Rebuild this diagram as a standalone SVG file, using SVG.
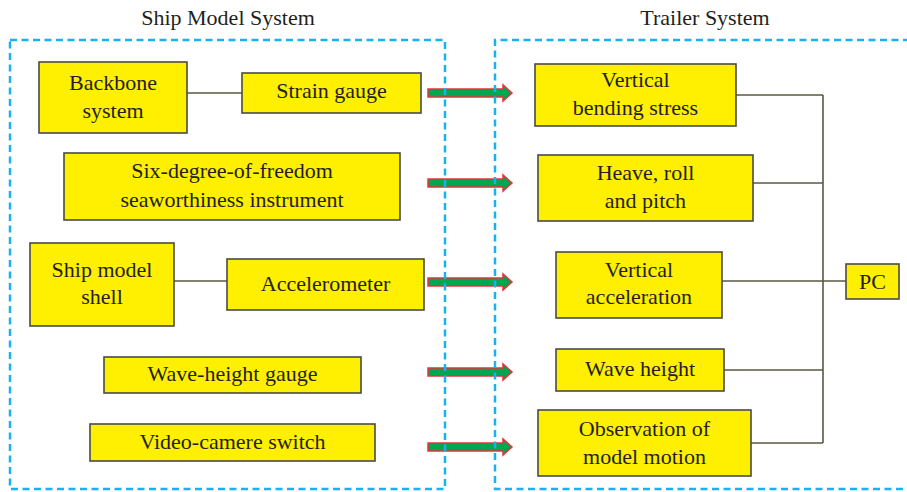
<svg xmlns="http://www.w3.org/2000/svg" width="907" height="492" viewBox="0 0 907 492">
<defs>
<style>
.box{fill:#ffef00;stroke:#4a4a4a;stroke-width:1.6}
.t{font-family:'Liberation Serif','DejaVu Serif',serif;font-size:22px;fill:#231f20;text-anchor:middle}
.ln{stroke:#5a5840;stroke-width:1.6;fill:none}
.arr{fill:#00a650;stroke:#e8323c;stroke-width:1.5}
.frame{fill:none;stroke:#1ab2ee;stroke-width:2.5;stroke-dasharray:7 4.5}
</style>
<polygon id="arrowShape" class="arr" points="428,-4 503,-4 503,-8 512,0 503,8 503,4 428,4"/>
</defs>
<rect width="907" height="492" fill="#ffffff"/>
<g font-family="Liberation Serif, serif">
<text class="t" x="228" y="25">Ship Model System</text>
<text class="t" x="705" y="25">Trailer System</text>
</g>

<g id="connectors">
<line class="ln" x1="187" y1="93" x2="242" y2="93"/>
<line class="ln" x1="174" y1="281" x2="227" y2="281"/>
<line class="ln" x1="736" y1="95" x2="823" y2="95"/>
<line class="ln" x1="753" y1="183" x2="823" y2="183"/>
<line class="ln" x1="722" y1="281" x2="846" y2="281"/>
<line class="ln" x1="724" y1="370" x2="823" y2="370"/>
<line class="ln" x1="751" y1="443" x2="823" y2="443"/>
<line class="ln" x1="823" y1="95" x2="823" y2="443"/>
<use href="#arrowShape" y="93"/>
<use href="#arrowShape" y="183"/>
<use href="#arrowShape" y="282"/>
<use href="#arrowShape" y="372"/>
<use href="#arrowShape" y="447"/>
</g>

<rect class="frame" x="10" y="40" width="435" height="449"/>
<path class="frame" d="M910,40 H495 V489 H910"/>

<g id="backbone"><rect class="box" x="39" y="62" width="148" height="71"/>
<text class="t" x="113" y="90">Backbone</text><text class="t" x="113" y="118">system</text></g>
<g id="strain"><rect class="box" x="242" y="73" width="179" height="40"/>
<text class="t" x="331.5" y="98">Strain gauge</text></g>
<g id="sixdof"><rect class="box" x="64" y="153" width="336" height="67"/>
<text class="t" x="232" y="178">Six-degree-of-freedom</text><text class="t" x="232" y="207">seaworthiness instrument</text></g>
<g id="shell"><rect class="box" x="30" y="243" width="144" height="83"/>
<text class="t" x="102" y="277">Ship model</text><text class="t" x="102" y="304">shell</text></g>
<g id="accel"><rect class="box" x="227" y="259" width="197" height="51"/>
<text class="t" x="325.5" y="291">Accelerometer</text></g>
<g id="wavegauge"><rect class="box" x="104" y="357" width="257" height="36"/>
<text class="t" x="232.5" y="381">Wave-height gauge</text></g>
<g id="video"><rect class="box" x="90" y="424" width="285" height="37"/>
<text class="t" x="232.5" y="449">Video-camere switch</text></g>

<g id="vbs"><rect class="box" x="535" y="64" width="201" height="62"/>
<text class="t" x="635.5" y="87">Vertical</text><text class="t" x="635.5" y="115">bending stress</text></g>
<g id="heave"><rect class="box" x="538" y="155" width="215" height="66"/>
<text class="t" x="645.5" y="180">Heave, roll</text><text class="t" x="645.5" y="208">and pitch</text></g>
<g id="vacc"><rect class="box" x="556" y="252" width="166" height="66"/>
<text class="t" x="639" y="277">Vertical</text><text class="t" x="639" y="304">acceleration</text></g>
<g id="waveh"><rect class="box" x="556" y="349" width="168" height="42"/>
<text class="t" x="640" y="376">Wave height</text></g>
<g id="obs"><rect class="box" x="538" y="410" width="213" height="66"/>
<text class="t" x="644.5" y="436">Observation of</text><text class="t" x="644.5" y="464">model motion</text></g>
<g id="pc"><rect class="box" x="846" y="264" width="53" height="35"/>
<text class="t" x="872.5" y="289">PC</text></g>
</svg>
